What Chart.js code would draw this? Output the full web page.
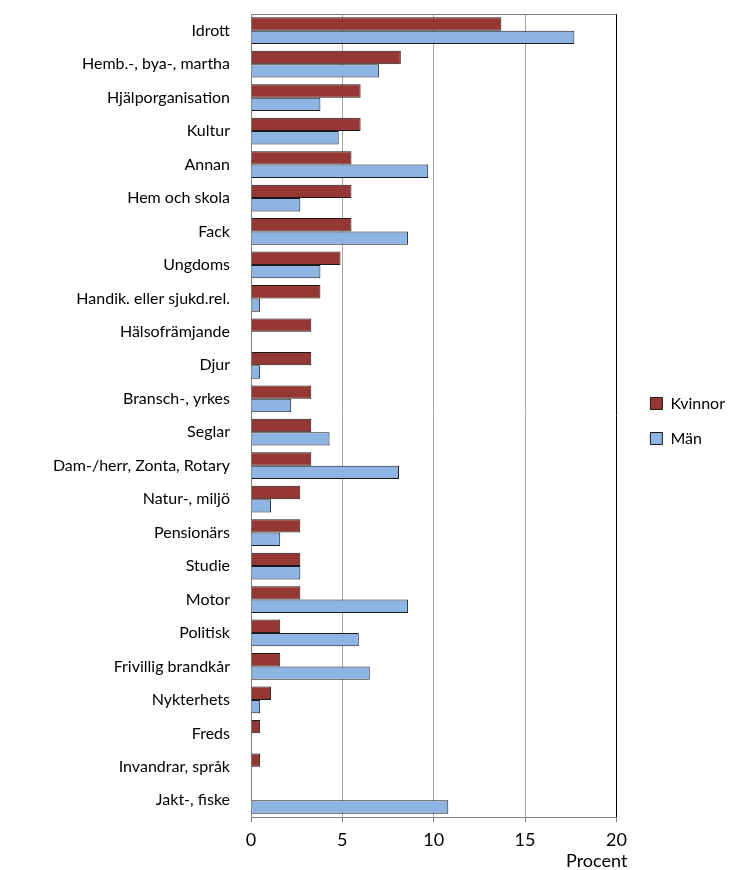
<!DOCTYPE html>
<html>
<head>
<meta charset="utf-8">
<script src="https://cdn.jsdelivr.net/npm/chart.js@4.4.1/dist/chart.umd.min.js"></script>
<style>
  html, body { margin: 0; padding: 0; background: #fff; }
  #wrap { width: 735px; height: 870px; position: relative; }
</style>
</head>
<body>
<div id="wrap"><canvas id="chart" width="735" height="870"></canvas></div>
<script>
const categories = [
  "Idrott", "Hemb.-, bya-, martha", "Hjälporganisation", "Kultur", "Annan",
  "Hem och skola", "Fack", "Ungdoms", "Handik. eller sjukd.rel.", "Hälsofrämjande",
  "Djur", "Bransch-, yrkes", "Seglar", "Dam-/herr, Zonta, Rotary", "Natur-, miljö",
  "Pensionärs", "Studie", "Motor", "Politisk", "Frivillig brandkår",
  "Nykterhets", "Freds", "Invandrar, språk", "Jakt-, fiske"
];
const kvinnor = [13.7, 8.2, 6.0, 6.0, 5.5, 5.5, 5.5, 4.9, 3.8, 3.3, 3.3, 3.3, 3.3, 3.3, 2.7, 2.7, 2.7, 2.7, 1.6, 1.6, 1.1, 0.5, 0.5, 0];
const man = [17.7, 7.0, 3.8, 4.8, 9.7, 2.7, 8.6, 3.8, 0.5, 0, 0.5, 2.2, 4.3, 8.1, 1.1, 1.6, 2.7, 8.6, 5.9, 6.5, 0.5, 0, 0, 10.8];
const xTicks = [0, 5, 10, 15, 20];

const FONT = "Lato, 'Open Sans', sans-serif";
const LEGEND_GAP = 15; // extra room left of the legend

// top border of plot area
const topBorder = {
  id: "topBorder",
  afterDraw(chart) {
    const { ctx, chartArea } = chart;
    ctx.save();
    ctx.strokeStyle = "#7f7f7f";
    ctx.lineWidth = 1;
    ctx.beginPath();
    ctx.moveTo(chartArea.left, chartArea.top + 0.5);
    ctx.lineTo(chartArea.right, chartArea.top + 0.5);
    ctx.stroke();
    ctx.restore();
  }
};

// widen the legend box, nudge legend items and the x title into place
const nudges = {
  id: "nudges",
  beforeLayout(chart) {
    const l = chart.legend;
    if (!l || l._patched) return;
    const fit = l.fit.bind(l);
    const draw = l.draw.bind(l);
    l.fit = function () { fit(); this.width += LEGEND_GAP; };
    l.draw = function () {
      const ctx = this.ctx;
      ctx.save();
      ctx.translate(LEGEND_GAP, -21);
      draw();
      ctx.restore();
    };
    l._patched = true;
  },
  afterLayout(chart) {
    const x = chart.scales.x;
    if (!x || x._patched) return;
    const drawTitle = x.drawTitle.bind(x);
    x.drawTitle = function () {
      const ctx = this.ctx;
      ctx.save();
      ctx.translate(11, 2);
      drawTitle();
      ctx.restore();
    };
    x._patched = true;
  }
};

new Chart(document.getElementById("chart"), {
  type: "bar",
  data: {
    labels: categories,
    datasets: [
      { label: "Kvinnor", data: kvinnor, backgroundColor: "#953735", borderColor: "#1a1a1a", borderWidth: 1 },
      { label: "Män", data: man, backgroundColor: "#8eb4e3", borderColor: "#1a1a1a", borderWidth: 1 }
    ]
  },
  options: {
    indexAxis: "y",
    responsive: false,
    animation: false,
    devicePixelRatio: 1,
    layout: { padding: { top: 14, right: 0, bottom: 0, left: 0 } },
    datasets: { bar: { categoryPercentage: 0.8, barPercentage: 1.0 } },
    plugins: {
      tooltip: { enabled: false },
      legend: {
        position: "right",
        align: "center",
        labels: {
          font: { family: FONT, size: 16 },
          color: "#000",
          boxWidth: 12,
          boxHeight: 12,
          padding: 19
        }
      }
    },
    scales: {
      x: {
        min: 0,
        max: 20,
        afterBuildTicks: (s) => { s.ticks = xTicks.map((v) => ({ value: v })); },
        afterFit: (s) => { s.height = 53; },
        ticks: { font: { family: FONT, size: 18 }, color: "#000", padding: 7, maxRotation: 0 },
        grid: {
          color: (c) => (c.tick && c.tick.value === 20 ? "#000" : "#a6a6a6"),
          tickColor: "#7f7f7f",
          tickLength: 5
        },
        border: { color: "#7f7f7f" },
        title: {
          display: true,
          text: "Procent",
          align: "end",
          font: { family: FONT, size: 18 },
          color: "#000",
          padding: 0
        }
      },
      y: {
        afterFit: (s) => { s.width = 251; },
        ticks: { font: { family: FONT, size: 16 }, color: "#000", padding: 0, autoSkip: false },
        grid: { drawOnChartArea: false, drawTicks: true, tickLength: 21, tickColor: "rgba(0,0,0,0)" },
        border: { color: "#7f7f7f" }
      }
    }
  },
  plugins: [topBorder, nudges]
});
</script>
</body>
</html>
